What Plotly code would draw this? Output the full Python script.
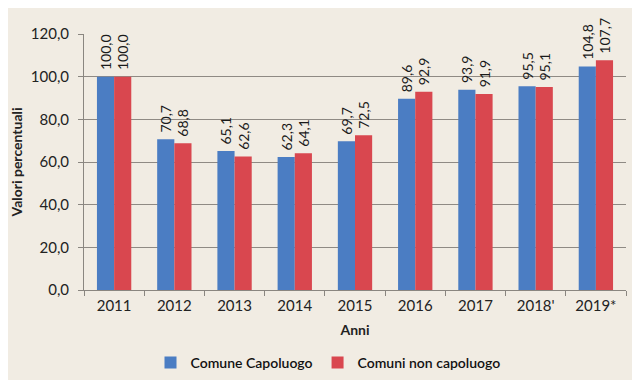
import plotly.graph_objects as go

anni = ["2011", "2012", "2013", "2014", "2015", "2016", "2017", "2018'", "2019*"]
capoluogo = [100.0, 70.7, 65.1, 62.3, 69.7, 89.6, 93.9, 95.5, 104.8]
non_capoluogo = [100.0, 68.8, 62.6, 64.1, 72.5, 92.9, 91.9, 95.1, 107.7]
y_ticks = [0, 20, 40, 60, 80, 100, 120]

font = "Lato, 'Open Sans', sans-serif"
fig = go.Figure()
for name, vals, col in [("Comune Capoluogo", capoluogo, "#4b7dc3"),
                        ("Comuni non capoluogo", non_capoluogo, "#d9474f")]:
    fig.add_trace(go.Bar(x=anni, y=vals, name=name,
                         marker=dict(color=col, line=dict(width=0)),
                         texttemplate="&nbsp;%{y:.1f}", textposition="outside", textangle=-90,
                         textfont=dict(size=14, color="#1a1a1a", family=font),
                         cliponaxis=False))

fig.update_layout(
    width=640, height=380,
    margin=dict(l=76, r=22, t=26, b=98, autoexpand=False),
    paper_bgcolor="#f1ece3", plot_bgcolor="#f1ece3",
    separators=",.",
    barmode="group", bargap=0.43, bargroupgap=0,
    font=dict(family=font, size=13, color="#222"),
    uniformtext=dict(minsize=14, mode="show"),
    legend=dict(orientation="h", xref="container", x=0.5, xanchor="center",
                y=-0.285, yanchor="middle",
                font=dict(size=14, color="#111", weight=600), itemwidth=30,
                bgcolor="rgba(0,0,0,0)"),
    xaxis=dict(title=dict(text="<b>Anni</b>", font=dict(size=14), standoff=12),
               showline=True, linecolor="#8a8680", linewidth=1,
               ticks="outside", tickson="boundaries", ticklen=5, tickcolor="#8a8680",
               tickfont=dict(size=15), ticklabelstandoff=2, automargin=False),
    yaxis=dict(title=dict(text="<b>Valori percentuali</b>", font=dict(size=14), standoff=10),
               range=[0, 120], tickvals=y_ticks, tickformat=".1f",
               showgrid=True, gridcolor="#8f8a84", gridwidth=1,
               showline=True, linecolor="#8a8680", linewidth=1,
               ticks="outside", ticklen=5, tickcolor="#8a8680",
               tickfont=dict(size=15), ticklabelstandoff=6, zeroline=False,
               automargin=False),
)

fig.write_html("out.html")
